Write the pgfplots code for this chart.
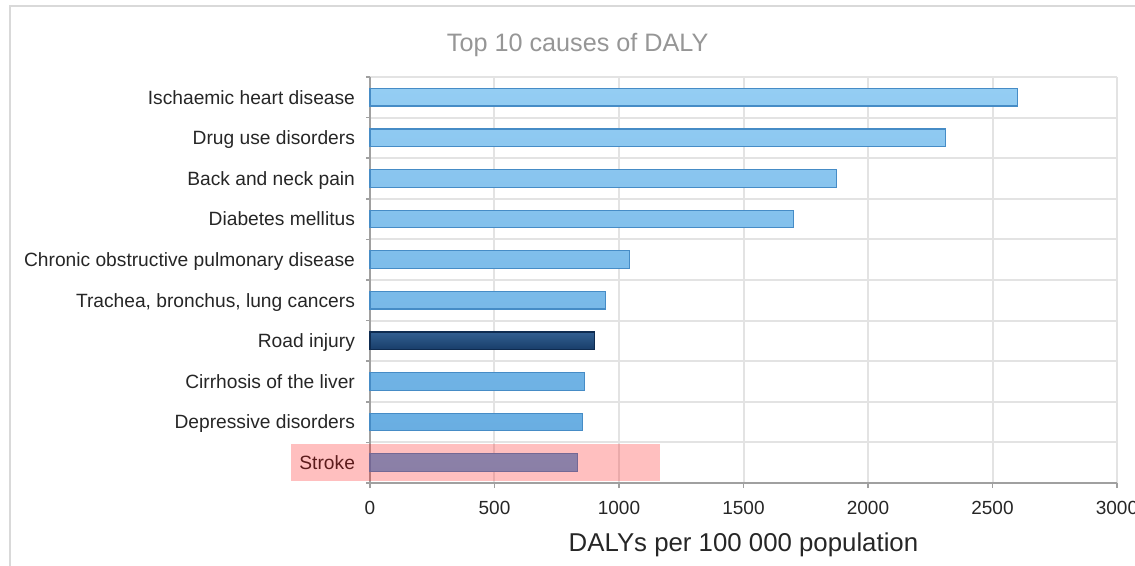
\documentclass[border=0pt]{standalone}
\usepackage{pgfplots}
\pgfplotsset{compat=1.18}
\usepackage{fontspec}
\setmainfont{Liberation Sans}

\definecolor{barTop}{HTML}{94CDF3}
\definecolor{barBot}{HTML}{64AAE0}
\definecolor{barEdge}{HTML}{468CC6}
\definecolor{navyTop}{HTML}{325F91}
\definecolor{navyBot}{HTML}{183D69}
\definecolor{navyEdge}{HTML}{0E2B50}
\definecolor{gridGray}{HTML}{E3E3E3}
\definecolor{axisGray}{HTML}{A0A0A0}
\definecolor{labelText}{HTML}{262626}
\definecolor{titleGray}{HTML}{969696}

% values in DALYs per 100 000 population, bottom (0) to top (9)
\pgfplotstableread{
pos value
0 833
1 855
2 860
4 945
5 1043
6 1700
7 1875
8 2312
9 2600
}\otherCauses
\pgfplotstableread{
pos value
3 900
}\roadInjury

\begin{document}
\begin{tikzpicture}
\useasboundingbox (0pt,0pt) rectangle (567.5pt,-283pt);
% outer frame
\draw[draw=gridGray!90!gray, line width=0.6pt] (5pt,-283pt) -- (5pt,-3pt) -- (567.5pt,-3pt);
\begin{axis}[
  at={(185pt,-241.5pt)}, anchor=south west,
  scale only axis, width=373.5pt, height=203pt,
  xmin=0, xmax=3000, ymin=-0.5, ymax=9.5,
  axis lines*=left,
  axis line style={draw=axisGray, line width=1pt},
  xtick={0,500,...,3000},
  ytick={0,...,9},
  yticklabels={Stroke, Depressive disorders, Cirrhosis of the liver, Road injury,
    {Trachea, bronchus, lung cancers}, Chronic obstructive pulmonary disease,
    Diabetes mellitus, Back and neck pain, Drug use disorders, Ischaemic heart disease},
  minor ytick={-0.5,0.5,...,9.5},
  xmajorgrids, yminorgrids,
  grid style={draw=gridGray, line width=1pt},
  minor grid style={draw=gridGray, line width=1pt},
  tick align=outside,
  major tick length=2.5pt, minor tick length=2pt,
  major y tick style={draw=none},
  tick style={draw=axisGray, line width=0.8pt},
  /pgf/number format/assume math mode=true,
  /pgf/number format/set thousands separator={},
  ticklabel style={font=\fontsize{9.5}{11}\selectfont, text=labelText},
  yticklabel style={font=\fontsize{9.6}{11}\selectfont, xshift=-1.5pt,
    text height=1.6ex, text depth=0.3ex},
  xticklabel style={yshift=-3pt},
  xlabel={DALYs per 100 000 population},
  xlabel style={at={(axis description cs:0.5,-0.152)}, anchor=center,
    font=\fontsize{12.9}{15}\selectfont, text=labelText},
  xbar, bar width=8.8pt, bar shift=0pt,
  clip=false,
]
\addplot[draw=barEdge, line width=0.6pt, top color=barTop, bottom color=barBot]
  table[x=value, y=pos] {\otherCauses};
\addplot[draw=navyEdge, line width=0.6pt, top color=navyTop, bottom color=navyBot]
  table[x=value, y=pos] {\roadInjury};
% highlight band over the Stroke row
\fill[red, fill opacity=0.25] (axis cs:-317,-0.46) rectangle (axis cs:1163,0.46);
% chart title
\node[font=\fontsize{12.6}{14}\selectfont, text=titleGray, anchor=center]
  at (axis description cs:0.278,1.079) {Top 10 causes of DALY};
\end{axis}
\end{tikzpicture}
\end{document}
